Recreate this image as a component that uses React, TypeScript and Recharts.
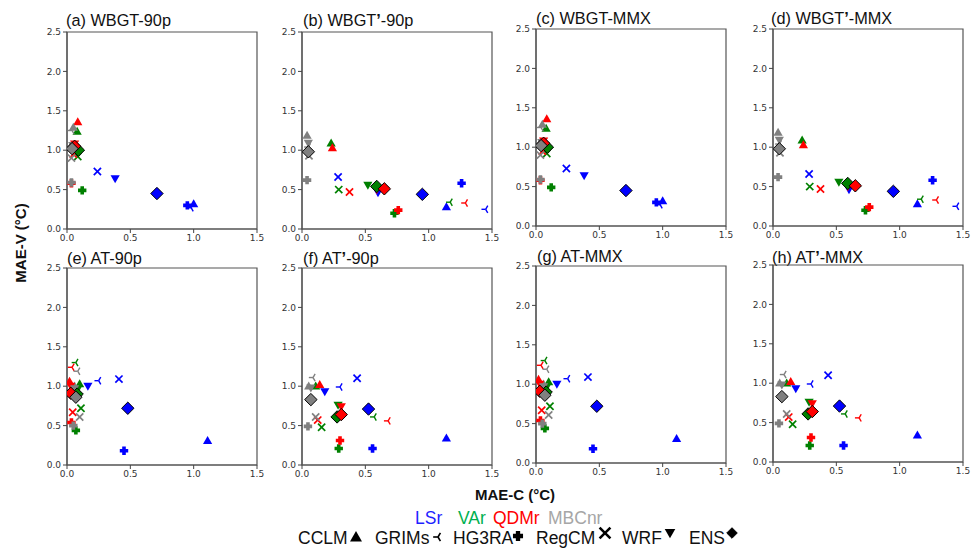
import React from "react";
import { ScatterChart, Scatter, XAxis, YAxis, ReferenceArea } from "recharts";

// Model order: CCLM, GRIMs, HG3RA, RegCM, WRF, ENS
const models = ["CCLM", "GRIMs", "HG3RA", "RegCM", "WRF", "ENS"];
const datasets = ["LSr", "VAr", "QDMr", "MBCnr"];
const datasetColors = ["#0000ff", "#008000", "#ff0000", "#808080"];
const legendTextColors = ["#1f1fff", "#00b050", "#ff0000", "#a6a6a6"];
const xTicks = [0, 0.5, 1.0, 1.5];
const yTicks = [0, 0.5, 1.0, 1.5, 2.0, 2.5];

// [MAE-C, MAE-V] per model
const wbgt90p_LSr = [[1.0, 0.32], [0.98, 0.27], [0.95, 0.3], [0.24, 0.73], [0.38, 0.64], [0.71, 0.45]];
const wbgt90p_VAr = [[0.08, 1.24], [0.07, 0.97], [0.12, 0.49], [0.085, 0.92], [0.07, 1.02], [0.09, 1.0]];
const wbgt90p_QDMr = [[0.085, 1.36], [0.05, 1.0], [0.035, 0.58], [0.05, 0.95], [0.06, 1.08], [0.06, 1.05]];
const wbgt90p_MBCnr = [[0.05, 1.29], [0.04, 1.25], [0.035, 0.59], [0.035, 0.9], [0.045, 1.06], [0.04, 1.02]];

const wbgtp90p_LSr = [[1.14, 0.28], [1.45, 0.25], [1.26, 0.58], [0.285, 0.66], [0.6, 0.46], [0.95, 0.44]];
const wbgtp90p_VAr = [[0.23, 1.09], [1.17, 0.34], [0.73, 0.2], [0.29, 0.5], [0.52, 0.555], [0.59, 0.54]];
const wbgtp90p_QDMr = [[0.24, 1.03], [1.29, 0.33], [0.76, 0.24], [0.375, 0.47], [0.59, 0.5], [0.65, 0.51]];
const wbgtp90p_MBCnr = [[0.04, 1.19], [0.05, 1.04], [0.04, 0.62], [0.055, 0.93], [0.05, 1.09], [0.05, 0.98]];

const at90p_LSr = [[1.11, 0.31], [0.25, 1.07], [0.45, 0.18], [0.41, 1.09], [0.165, 1.0], [0.48, 0.72]];
const at90p_VAr = [[0.1, 1.03], [0.07, 1.3], [0.07, 0.44], [0.11, 0.72], [0.08, 0.95], [0.08, 0.9]];
const at90p_QDMr = [[0.02, 1.06], [0.04, 1.24], [0.035, 0.54], [0.045, 0.67], [0.03, 1.0], [0.03, 0.91]];
const at90p_MBCnr = [[0.06, 1.0], [0.085, 1.19], [0.05, 0.5], [0.1, 0.61], [0.06, 0.97], [0.07, 0.86]];

const atp90p_LSr = [[1.14, 0.34], [0.3, 0.99], [0.557, 0.21], [0.435, 1.1], [0.18, 0.93], [0.525, 0.71]];
const atp90p_VAr = [[0.108, 1.0], [0.57, 0.61], [0.29, 0.21], [0.155, 0.48], [0.285, 0.76], [0.277, 0.61]];
const atp90p_QDMr = [[0.14, 1.02], [0.68, 0.56], [0.3, 0.31], [0.124, 0.57], [0.31, 0.74], [0.31, 0.64]];
const atp90p_MBCnr = [[0.053, 1.0], [0.087, 1.11], [0.047, 0.49], [0.108, 0.61], [0.07, 0.98], [0.07, 0.83]];

const setWBGT90p = [wbgt90p_LSr, wbgt90p_VAr, wbgt90p_QDMr, wbgt90p_MBCnr];
const setWBGTp90p = [wbgtp90p_LSr, wbgtp90p_VAr, wbgtp90p_QDMr, wbgtp90p_MBCnr];
const setAT90p = [at90p_LSr, at90p_VAr, at90p_QDMr, at90p_MBCnr];
const setATp90p = [atp90p_LSr, atp90p_VAr, atp90p_QDMr, atp90p_MBCnr];

const FONT = "'Liberation Sans', Arial, sans-serif";
const TICKFONT = "'DejaVu Sans', sans-serif";

function markerShape(model: string, color: string, scale = 1) {
  return (props: any) => {
    const { cx, cy } = props;
    if (cx == null || cy == null) return <g />;
    const s = scale;
    switch (model) {
      case "CCLM":
        return (
          <polygon
            points={`${cx},${cy - 4.6 * s} ${cx - 4.6 * s},${cy + 3.4 * s} ${cx + 4.6 * s},${cy + 3.4 * s}`}
            fill={color}
          />
        );
      case "WRF":
        return (
          <polygon
            points={`${cx - 4.6 * s},${cy - 3.4 * s} ${cx + 4.6 * s},${cy - 3.4 * s} ${cx},${cy + 4.6 * s}`}
            fill={color}
          />
        );
      case "HG3RA": {
        const a = 4.2 * s;
        const t = 1.8 * s;
        const pts = [
          [-t, -a], [t, -a], [t, -t], [a, -t], [a, t], [t, t], [t, a], [-t, a], [-t, t], [-a, t], [-a, -t], [-t, -t],
        ]
          .map((p) => `${cx + p[0]},${cy + p[1]}`)
          .join(" ");
        return <polygon points={pts} fill={color} />;
      }
      case "RegCM": {
        const r = 3.6 * s;
        return (
          <g stroke={color} strokeWidth={1.7 * s}>
            <line x1={cx - r} y1={cy - r} x2={cx + r} y2={cy + r} />
            <line x1={cx - r} y1={cy + r} x2={cx + r} y2={cy - r} />
          </g>
        );
      }
      case "GRIMs": {
        const r = 4.2 * s;
        return (
          <g stroke={color} strokeWidth={1.4 * s}>
            <line x1={cx} y1={cy} x2={cx - r} y2={cy} />
            <line x1={cx} y1={cy} x2={cx + 0.5 * r} y2={cy - 0.866 * r} />
            <line x1={cx} y1={cy} x2={cx + 0.5 * r} y2={cy + 0.866 * r} />
          </g>
        );
      }
      default: {
        const d = 6.2 * s;
        return (
          <polygon
            points={`${cx},${cy - d} ${cx + d},${cy} ${cx},${cy + d} ${cx - d},${cy}`}
            fill={color}
            stroke="#000"
            strokeWidth={1}
          />
        );
      }
    }
  };
}

const PW = 190;
const PH = 197;

function Panel({ set, left, top, yw }: { set: number[][][]; left: number; top: number; yw: number }) {
  const series: any[] = [];
  models.forEach((m, mi) => {
    set.forEach((arr, di) => {
      series.push({
        key: `${m}-${datasets[di]}`,
        model: m,
        color: datasetColors[di],
        data: [{ x: arr[mi][0], y: arr[mi][1] }],
      });
    });
  });
  return (
    <div style={{ position: "absolute", left: left - yw, top: top - 5 }}>
      <ScatterChart width={yw + PW + 10} height={PH + 30} margin={{ top: 5, right: 10, bottom: 0, left: 0 }}>
        <XAxis
          type="number"
          dataKey="x"
          domain={[0, 1.5]}
          ticks={xTicks}
          tickFormatter={(v: number) => v.toFixed(1)}
          height={25}
          tickSize={4}
          axisLine={{ stroke: "#555", strokeWidth: 1.2 }}
          tickLine={{ stroke: "#444" }}
          tick={{ fontSize: 9, fill: "#333", fontFamily: TICKFONT }}
          allowDataOverflow
        />
        <YAxis
          type="number"
          dataKey="y"
          domain={[0, 2.5]}
          ticks={yTicks}
          tickFormatter={(v: number) => v.toFixed(1)}
          width={yw}
          tickSize={4}
          axisLine={{ stroke: "#555", strokeWidth: 1.2 }}
          tickLine={{ stroke: "#444" }}
          tick={{ fontSize: 9, fill: "#333", fontFamily: TICKFONT }}
          allowDataOverflow
        />
        <ReferenceArea x1={0} x2={1.5} y1={0} y2={2.5} fill="none" fillOpacity={0} stroke="#555" strokeWidth={1.2} />
        {series.map((s) => (
          <Scatter
            key={s.key}
            data={s.data}
            shape={markerShape(s.model, s.color)}
            isAnimationActive={false}
          />
        ))}
      </ScatterChart>
    </div>
  );
}

const panels = [
  { set: setWBGT90p, left: 66.7, top: 32, yw: 40, title: ["(a) WBGT", "", "-90p"], tx: 66, ty: 26 },
  { set: setWBGTp90p, left: 302.3, top: 32, yw: 40, title: ["(b) WBGT", "’", "-90p"], tx: 303, ty: 26 },
  { set: setWBGT90p, left: 535.7, top: 29, yw: 20, title: ["(c) WBGT", "", "-MMX"], tx: 536, ty: 23.5 },
  { set: setWBGTp90p, left: 772.7, top: 29, yw: 40, title: ["(d) WBGT", "’", "-MMX"], tx: 771, ty: 23.5 },
  { set: setAT90p, left: 66.7, top: 268, yw: 40, title: ["(e) AT", "", "-90p"], tx: 67, ty: 263.5 },
  { set: setATp90p, left: 301.7, top: 268, yw: 40, title: ["(f) AT", "’", "-90p"], tx: 303, ty: 263.5 },
  { set: setAT90p, left: 535.7, top: 265.5, yw: 20, title: ["(g) AT", "", "-MMX"], tx: 537, ty: 261.5 },
  { set: setATp90p, left: 772.7, top: 265, yw: 40, title: ["(h) AT", "’", "-MMX"], tx: 772, ty: 262.5 },
];

const legendRow2 = [
  { label: "CCLM", model: "CCLM", tx: 298, sx: 356, sy: 537, sc: 1.3 },
  { label: "GRIMs", model: "GRIMs", tx: 375, sx: 438, sy: 537, sc: 1.15 },
  { label: "HG3RA", model: "HG3RA", tx: 453, sx: 518, sy: 536, sc: 1.2 },
  { label: "RegCM", model: "RegCM", tx: 536, sx: 605, sy: 533, sc: 1.5 },
  { label: "WRF", model: "WRF", tx: 622, sx: 670, sy: 533, sc: 1.15 },
  { label: "ENS", model: "ENS", tx: 689, sx: 732, sy: 533, sc: 0.85 },
];

const legendRow1 = [
  { label: "LSr", tx: 415 },
  { label: "VAr", tx: 458 },
  { label: "QDMr", tx: 493 },
  { label: "MBCnr", tx: 548 },
];

export default function App() {
  return (
    <div style={{ position: "absolute", left: 0, top: 0, width: 971, height: 550, background: "#fff", overflow: "hidden" }}>
      <svg width={971} height={550} style={{ position: "absolute", left: 0, top: 0 }}>
        {panels.map((p, i) => (
          <text key={i} x={p.tx} y={p.ty} fontSize={16.3} fontFamily={FONT} fill="#111">
            {p.title[0]}
            {p.title[1] ? <tspan fontWeight="bold">{p.title[1]}</tspan> : null}
            {p.title[2]}
          </text>
        ))}
        <text x={515} y={500} textAnchor="middle" fontSize={15} fontWeight="bold" fontFamily={FONT} fill="#111">
          MAE-C (°C)
        </text>
        <text
          x={20}
          y={243}
          textAnchor="middle"
          dominantBaseline="central"
          transform="rotate(-90, 20, 243)"
          fontSize={15}
          fontWeight="bold"
          fontFamily={FONT}
          fill="#111"
        >
          MAE-V (°C)
        </text>
        {legendRow1.map((l, i) => (
          <text key={l.label} x={l.tx} y={524} fontSize={17.5} fontFamily={FONT} fill={legendTextColors[i]}>
            {l.label}
          </text>
        ))}
        {legendRow2.map((l) => (
          <g key={l.label}>
            <text x={l.tx} y={544} fontSize={17.5} fontFamily={FONT} fill="#111">
              {l.label}
            </text>
            {markerShape(l.model, "#000", l.sc)({ cx: l.sx, cy: l.sy })}
          </g>
        ))}
      </svg>
      {panels.map((p, i) => (
        <Panel key={i} set={p.set} left={p.left} top={p.top} yw={p.yw} />
      ))}
    </div>
  );
}
